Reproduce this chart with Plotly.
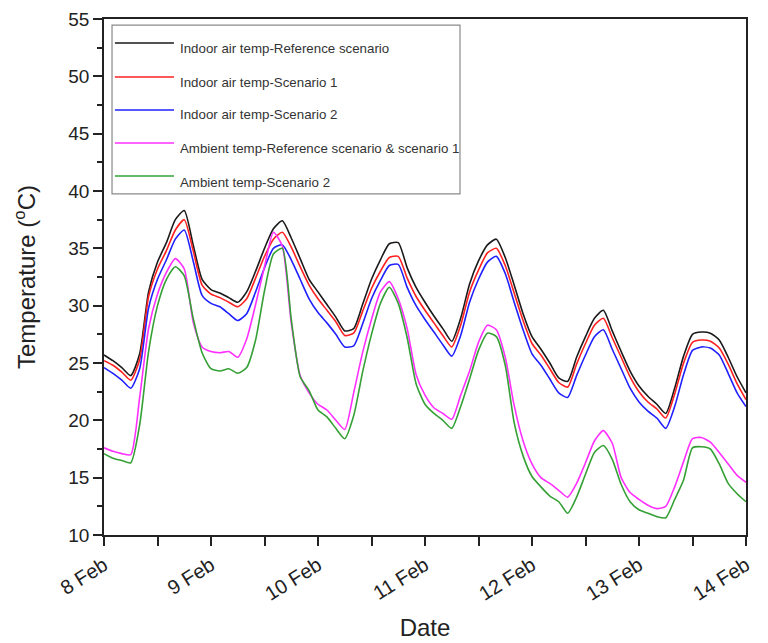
import pandas as pd
import plotly.graph_objects as go

# 2-hourly time stamps from 8 Feb 00:00 to 14 Feb 00:00
time = pd.date_range("2019-02-08 00:00", "2019-02-14 00:00", freq="2h")

indoor_ref = [25.7, 25.2, 24.6, 23.9, 25.8, 31.2, 33.8, 35.5, 37.5, 38.3, 35.3, 32.3,
              31.4, 31.1, 30.7, 30.3, 31.2, 33.0, 35.0, 36.7, 37.4, 35.9, 34.1, 32.3,
              31.2, 30.1, 29.0, 27.8, 28.0, 30.1, 32.3, 34.0, 35.4, 35.5, 33.3, 31.6,
              30.3, 29.1, 28.0, 26.9, 28.9, 31.9, 33.9, 35.3, 35.8, 34.2, 31.8, 29.3,
              27.3, 26.2, 25.0, 23.7, 23.4, 25.5, 27.3, 28.9, 29.6, 27.8, 26.0, 24.3,
              23.0, 22.1, 21.4, 20.6, 22.8, 25.6, 27.5, 27.7, 27.6, 27.0, 25.5, 23.8,
              22.4]
indoor_s1 = [25.2, 24.8, 24.2, 23.5, 25.3, 30.8, 33.2, 34.8, 36.6, 37.5, 34.8, 31.8,
             31.0, 30.7, 30.3, 29.9, 30.6, 32.4, 34.3, 35.8, 36.4, 35.1, 33.4, 31.8,
             30.6, 29.6, 28.6, 27.4, 27.6, 29.5, 31.5, 33.0, 34.2, 34.3, 32.4, 30.8,
             29.6, 28.5, 27.4, 26.4, 28.3, 31.2, 33.1, 34.6, 35.0, 33.5, 31.1, 28.7,
             26.7, 25.7, 24.5, 23.3, 22.9, 24.9, 26.7, 28.3, 28.9, 27.2, 25.5, 23.8,
             22.5, 21.6, 21.0, 20.2, 22.3, 25.0, 26.8, 27.0, 26.9, 26.3, 24.9, 23.2,
             21.8]
indoor_s2 = [24.6, 24.1, 23.5, 22.8, 24.5, 29.8, 32.3, 34.0, 35.8, 36.6, 33.9, 30.9,
             30.2, 29.9, 29.3, 28.7, 29.3, 31.2, 33.3, 35.0, 35.3, 34.0, 32.3, 30.6,
             29.4, 28.5, 27.5, 26.4, 26.5, 28.4, 30.6, 32.2, 33.5, 33.6, 31.6, 30.0,
             28.8, 27.7, 26.6, 25.6, 27.4, 30.3, 32.3, 33.8, 34.3, 32.8, 30.3, 27.9,
             25.8, 24.8, 23.6, 22.4, 22.0, 23.9, 25.7, 27.3, 27.9, 26.2, 24.5, 22.8,
             21.6, 20.8, 20.2, 19.3, 21.2, 24.0, 26.1, 26.4, 26.3, 25.7, 24.1, 22.4,
             21.2]
ambient_ref_s1 = [17.6, 17.3, 17.1, 17.0, 22.0, 28.0, 31.0, 32.9, 34.1, 33.2, 28.6, 26.4,
                  26.0, 25.9, 26.0, 25.5, 27.1, 30.1, 33.4, 36.4, 35.2, 28.5, 23.9, 22.4,
                  21.4, 20.9, 20.0, 19.2, 22.4, 25.9, 28.8, 31.2, 32.1, 30.6, 28.0, 24.0,
                  22.2, 21.1, 20.6, 20.1, 22.2, 24.3, 26.8, 28.3, 27.9, 25.5, 21.3, 18.2,
                  16.2, 15.0, 14.5, 13.9, 13.3, 14.5, 16.3, 18.2, 19.1, 18.0, 15.0, 13.7,
                  13.1, 12.6, 12.3, 12.5, 14.2, 16.4, 18.4, 18.5, 18.1, 17.2, 16.2, 15.2,
                  14.6]
ambient_s2 = [17.1, 16.7, 16.5, 16.3, 19.6, 26.0, 30.0, 32.3, 33.4, 32.6, 28.9, 25.9,
              24.5, 24.3, 24.5, 24.1, 24.6, 27.0, 31.3, 34.5, 35.0, 28.8, 23.8, 22.6,
              20.9, 20.3, 19.3, 18.4, 20.4, 24.2, 27.5, 30.2, 31.6, 30.2, 27.2, 23.2,
              21.4, 20.6, 20.0, 19.3, 21.2, 23.6, 26.1, 27.6, 27.3, 24.8, 19.8, 16.9,
              15.1, 14.2, 13.4, 12.9, 11.9, 13.3, 15.3, 17.2, 17.8, 16.6, 14.4, 12.9,
              12.2, 11.9, 11.6, 11.5, 13.1, 14.8, 17.6, 17.7, 17.5, 16.2, 14.5, 13.6,
              12.9]

series_names = ["Indoor air temp-Reference scenario",
                "Indoor air temp-Scenario 1",
                "Indoor air temp-Scenario 2",
                "Ambient temp-Reference scenario & scenario 1",
                "Ambient temp-Scenario 2"]
series_values = [indoor_ref, indoor_s1, indoor_s2, ambient_ref_s1, ambient_s2]
series_colors = ["#1a1a1a", "#ff2020", "#2020ff", "#ff30ff", "#35a035"]

fig = go.Figure()
for name, vals, col in zip(series_names, series_values, series_colors):
    fig.add_trace(go.Scatter(x=time, y=vals, mode="lines", name=name,
                             line=dict(color=col, width=1.6, shape="spline", smoothing=0.6),
                             showlegend=False))

# Manual legend (box, line samples, labels) in paper coordinates
fig.add_shape(type="rect", xref="paper", yref="paper", x0=0.0125, x1=0.5545,
              y0=0.661, y1=0.988, line=dict(color="#8a8a8a", width=1.2),
              fillcolor="rgba(255,255,255,0)")
leg_line_y = [0.9535, 0.8876, 0.8236, 0.7597, 0.6957]
leg_text_y = [0.9419, 0.8779, 0.8140, 0.7481, 0.6841]
for name, col, ly, ty in zip(series_names, series_colors, leg_line_y, leg_text_y):
    fig.add_shape(type="line", xref="paper", yref="paper", x0=0.017, x1=0.109,
                  y0=ly, y1=ly, line=dict(color=col, width=1.6))
    fig.add_annotation(xref="paper", yref="paper", x=0.1153, y=ty, text=name,
                       showarrow=False, xanchor="left", yanchor="middle",
                       font=dict(family="Liberation Sans, Arial", size=13.3, color="#333333"))

fig.update_layout(
    width=760, height=635,
    margin=dict(l=96, r=22, t=11, b=108, autoexpand=False),
    paper_bgcolor="white", plot_bgcolor="white",
    font=dict(family="Liberation Sans, Arial", color="#222222"),
    showlegend=False,
)
fig.update_xaxes(
    type="date", automargin=False,
    range=["2019-02-08", "2019-02-14"],
    dtick=86400000, tick0="2019-02-08", tickformat="%-d %b",
    tickangle=-32, tickfont=dict(size=20),
    ticks="outside", ticklen=9, tickwidth=1.5, tickcolor="#222",
    minor=dict(dtick=43200000, ticks="outside", ticklen=9, tickwidth=1.5, tickcolor="#222"),
    showline=True, linecolor="#222", linewidth=1.8, mirror=True,
    showgrid=False, zeroline=False,
    title=dict(text="Date", font=dict(size=24), standoff=15),
)
fig.update_yaxes(
    automargin=False,
    range=[10, 55], dtick=5, tick0=10,
    tickfont=dict(size=19),
    ticks="outside", ticklen=9, tickwidth=1.5, tickcolor="#222",
    minor=dict(dtick=2.5, ticks="outside", ticklen=5, tickwidth=1.5, tickcolor="#222"),
    showline=True, linecolor="#222", linewidth=1.8, mirror=True,
    showgrid=False, zeroline=False,
    title=dict(text="Temperature (<sup>o</sup>C)", font=dict(size=24), standoff=26),
)

fig.write_html("out.html")
